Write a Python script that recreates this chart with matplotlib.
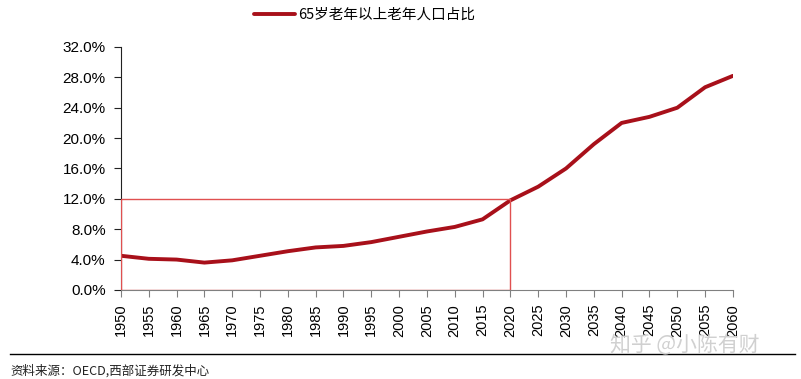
import matplotlib.pyplot as plt
from matplotlib.patches import Rectangle

plt.rcParams['font.family'] = ['Liberation Sans', 'Noto Sans CJK SC', 'DejaVu Sans']

# 数据
years = [1950, 1955, 1960, 1965, 1970, 1975, 1980, 1985, 1990, 1995, 2000, 2005,
         2010, 2015, 2020, 2025, 2030, 2035, 2040, 2045, 2050, 2055, 2060]
ratio = [4.5, 4.1, 4.0, 3.6, 3.9, 4.5, 5.1, 5.6, 5.8, 6.3, 7.0, 7.7,
         8.3, 9.3, 11.8, 13.6, 16.0, 19.2, 22.0, 22.8, 24.0, 26.7, 28.2]
yticks = [0, 4, 8, 12, 16, 20, 24, 28, 32]
label = "65岁老年以上老年人口占比"
source = "资料来源：OECD,西部证券研发中心"

fig = plt.figure(figsize=(8.01, 3.79), dpi=100)
ax = fig.add_axes([0.151, 0.235, 0.764, 0.641])

ax.plot(years, ratio, color='#A8101A', lw=2.8, label=label, solid_capstyle='round')

# 红色框 1950-2020, 0-12%
ax.add_patch(Rectangle((1950, 0), 70, 12, fill=False, edgecolor='#E05050', lw=1.0, zorder=3))

ax.set_xlim(1950, 2060)
ax.set_ylim(0, 32)
ax.set_xticks(years)
ax.set_xticklabels([str(y) for y in years], rotation=90, fontsize=10.5)
ax.set_yticks(yticks)
ax.set_yticklabels([f"{v:.1f}%" for v in yticks], fontsize=11)

for s in ['top', 'right']:
    ax.spines[s].set_visible(False)
ax.spines['left'].set_color('#222222')
ax.spines['bottom'].set_color('#808080')
ax.tick_params(axis='y', direction='out', length=5, color='#222222', pad=6)
ax.tick_params(axis='x', direction='out', length=5, color='#808080', pad=5)

fig.legend(loc='center', bbox_to_anchor=(0.455, 0.96), frameon=False,
           prop={'family': ['Noto Sans CJK SC'], 'size': 10.5},
           handlelength=2.8, handletextpad=0.2)

# 底部分隔线和来源
fig.add_artist(plt.Line2D([0.012, 0.993], [0.066, 0.066], color='black', lw=1.0))
fig.text(0.013, 0.012, source, fontsize=9, family=['Noto Sans CJK SC'], color='#222222')
fig.text(0.762, 0.072, "知乎 @小陈有财", fontsize=15, family=['Noto Sans CJK SC'], color='#D0D0D0')

fig.savefig('out.png', dpi=100)
